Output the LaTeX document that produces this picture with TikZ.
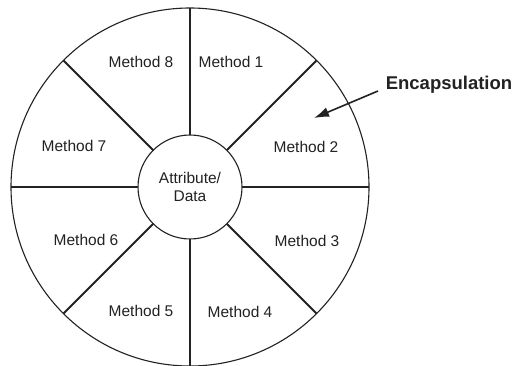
\documentclass[tikz,border=0pt]{standalone}
\usepackage{fontspec}
\setmainfont{Liberation Sans}
\usetikzlibrary{arrows.meta}
\definecolor{ink}{HTML}{222222}
\begin{document}
\begin{tikzpicture}[x=1pt,y=-1pt,
  ring/.style={circle,draw=ink,line width=1.1pt,inner sep=0pt,outer sep=0pt},
  spoke/.style={draw=ink,line width=1.8pt},
  mlabel/.style={font=\fontsize{15.5}{18}\selectfont,text=ink,inner sep=0pt},
  callout/.style={font=\fontsize{18.5}{22}\bfseries,text=ink,inner sep=0pt}]
\useasboundingbox (0,0) rectangle (517,366);
\fill[white] (0,0) rectangle (517,366);
\node[ring,minimum size=358pt] (O) at (190,187) {};
\node[ring,minimum size=104pt,align=center,mlabel] (I) at (190,187) {Attribute/\\Data};
\foreach \a in {0,45,...,315} {
  \draw[spoke] (I.\a) -- (O.\a);
}
\node[mlabel] (m1) at (231,62) {Method 1};
\node[mlabel] (m2) at (306,147) {Method 2};
\node[mlabel] (m3) at (307,241) {Method 3};
\node[mlabel] (m4) at (240,312) {Method 4};
\node[mlabel] (m5) at (141,311) {Method 5};
\node[mlabel] (m6) at (86,240) {Method 6};
\node[mlabel] (m7) at (74,146) {Method 7};
\node[mlabel] (m8) at (141,62) {Method 8};
\node[callout] (enc) at (449,85) {Encapsulation};
\coordinate (tail) at (378,91);
\coordinate (tip) at (314,118);
\draw[ink,line width=1.6pt,-{Latex[length=15pt,width=10pt]}] (tail) -- (tip);
\end{tikzpicture}
\end{document}
